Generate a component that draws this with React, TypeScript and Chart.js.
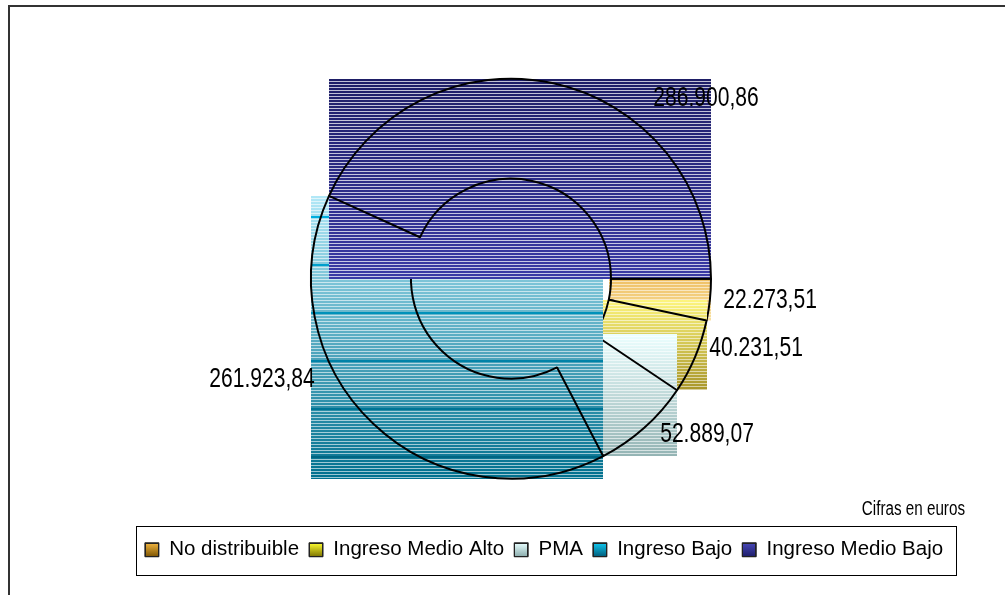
import React, { useEffect, useRef } from 'react';
import { Chart, registerables } from 'chart.js';

Chart.register(...registerables);

// ---- data ----
const categories = ['No distribuible', 'Ingreso Medio Alto', 'PMA', 'Ingreso Bajo', 'Ingreso Medio Bajo'];
const values = [22273.51, 40231.51, 52889.07, 261923.84, 286900.86];
const unitNote = 'Cifras en euros';

// ---- styles ----
const FONT = '"Liberation Sans", Arial, sans-serif';
const fillTop = ['#efc064', '#fdf57e', '#ecffff', '#b2e8f7', '#1e1e66'];
const fillBottom = ['#f8e2a4', '#a8962a', '#94b4b4', '#00708e', '#3a3aa6'];
const stripeColor = [
  'rgba(255,255,255,0.55)',
  'rgba(255,255,255,0.55)',
  'rgba(255,255,255,0.6)',
  'rgba(255,255,255,0.6)',
  'rgba(255,255,255,0.72)',
];
const bandTop = [null, null, null, '#00b4e6', null];
const bandBottom = [null, null, null, '#005f7a', null];
const legendTop = ['#f2b640', '#ffff30', '#e8ffff', '#10c8f0', '#4848b8'];
const legendBottom = ['#7a5200', '#7a7000', '#88aaaa', '#005a78', '#1c1c68'];
// label placement: polar offset from the doughnut centre (deg clockwise from 3 o'clock, multiple of outer radius)
const labelPolar: [number, number][] = [
  [4.9, 1.3],
  [15.9, 1.274],
  [38.5, 1.2525],
  [157.9, 1.3435],
  [317.3, 1.327],
];

const fmt = (v: number) => {
  const [i, d] = v.toFixed(2).split('.');
  return i.replace(/\B(?=(\d{3})+(?!\d))/g, '.') + ',' + d;
};

function arcBox(el: any) {
  const { x, y, startAngle, endAngle, innerRadius, outerRadius } = el;
  const xs: number[] = [];
  const ys: number[] = [];
  for (const a of [startAngle, endAngle]) {
    for (const r of [innerRadius, outerRadius]) {
      xs.push(x + r * Math.cos(a));
      ys.push(y + r * Math.sin(a));
    }
  }
  const q = Math.PI / 2;
  for (let k = Math.ceil(startAngle / q); k * q <= endAngle; k++) {
    xs.push(x + outerRadius * Math.cos(k * q));
    ys.push(y + outerRadius * Math.sin(k * q));
  }
  return {
    l: Math.round(Math.min(...xs)),
    r: Math.round(Math.max(...xs)),
    t: Math.round(Math.min(...ys)),
    b: Math.round(Math.max(...ys)),
  };
}

function condensedText(ctx: any, text: string, x: number, y: number, size: number, align: string) {
  ctx.save();
  ctx.translate(x, y);
  ctx.scale(0.78, 1);
  ctx.font = `${size}px ${FONT}`;
  ctx.textAlign = align;
  ctx.textBaseline = 'middle';
  ctx.fillText(text, 0, 0);
  ctx.restore();
}

const framePlugin = {
  id: 'frame',
  beforeDraw(chart: any) {
    const ctx = chart.ctx;
    ctx.save();
    ctx.fillStyle = '#fff';
    ctx.fillRect(0, 0, chart.width, chart.height);
    ctx.strokeStyle = '#333';
    ctx.lineWidth = 2;
    ctx.strokeRect(9, 6, chart.width + 20, chart.height + 20);
    ctx.restore();
  },
};

const legendShiftPlugin = {
  id: 'legendShift',
  afterLayout(chart: any) {
    const lg = chart.legend;
    if (lg) {
      lg.left += 33;
      lg.right += 33;
    }
  },
};

// each segment: its bounding box is filled with a striped gradient, then the segment outline drawn;
// later segments overlap earlier ones (as in the reference rendering)
const segmentPlugin = {
  id: 'segmentBoxes',
  beforeDatasetDraw(chart: any, args: any) {
    const ctx = chart.ctx;
    const meta = args.meta;
    meta.data.forEach((el: any, i: number) => {
      const { l, r, t, b } = arcBox(el);
      const w = r - l;
      ctx.save();
      const g = ctx.createLinearGradient(0, t, 0, b);
      g.addColorStop(0, fillTop[i]);
      g.addColorStop(1, fillBottom[i]);
      ctx.fillStyle = g;
      ctx.fillRect(l, t, w, b - t);
      let bg: any = null;
      if (bandTop[i]) {
        bg = ctx.createLinearGradient(0, t, 0, b);
        bg.addColorStop(0, bandTop[i]);
        bg.addColorStop(1, bandBottom[i]);
      }
      ctx.fillStyle = stripeColor[i];
      for (let yy = t + 2; yy < b; yy += 3) {
        if (bg && (yy - t - 20 + 480) % 48 < 3) continue;
        ctx.fillRect(l, yy, w, 1);
      }
      if (bg) {
        ctx.fillStyle = bg;
        for (let yy = t + 20; yy < b; yy += 48) ctx.fillRect(l, yy, w, 2);
      }
      ctx.restore();
      el.draw(ctx, chart.chartArea);
    });
    return false;
  },
};

const labelPlugin = {
  id: 'valueLabels',
  afterDraw(chart: any) {
    const ctx = chart.ctx;
    const meta = chart.getDatasetMeta(0);
    ctx.save();
    ctx.fillStyle = '#000';
    meta.data.forEach((el: any, i: number) => {
      const [deg, k] = labelPolar[i];
      const a = (deg * Math.PI) / 180;
      const R = el.outerRadius;
      condensedText(ctx, fmt(values[i]), el.x + R * k * Math.cos(a), el.y + R * k * Math.sin(a), 27, 'center');
    });
    condensedText(ctx, unitNote, chart.width - 40, 510, 19.5, 'right');
    // legend frame + gradient boxes
    const lg = chart.legend;
    const hb = lg.legendHitBoxes;
    if (hb && hb.length) {
      const first = hb[0];
      const last = hb[hb.length - 1];
      ctx.strokeStyle = '#000';
      ctx.lineWidth = 1;
      const L = Math.round(first.left - 9) + 0.5;
      const Rr = Math.round(last.left + last.width + 13) + 0.5;
      const T = Math.round(first.top - 14) + 0.5;
      const B = Math.round(first.top + first.height + 15) + 0.5;
      ctx.strokeRect(L, T, Rr - L, B - T);
      hb.forEach((h: any, i: number) => {
        const bx = Math.round(h.left);
        const by = Math.round(h.top + (h.height - 14) / 2);
        const g = ctx.createLinearGradient(0, by, 0, by + 14);
        g.addColorStop(0, legendTop[i]);
        g.addColorStop(1, legendBottom[i]);
        ctx.fillStyle = g;
        ctx.fillRect(bx, by, 14, 14);
        ctx.strokeStyle = '#222';
        ctx.strokeRect(bx + 0.5, by + 0.5, 13, 13);
      });
    }
    ctx.restore();
  },
};

export default function App() {
  const ref = useRef<HTMLCanvasElement>(null);
  useEffect(() => {
    const chart = new Chart(ref.current as HTMLCanvasElement, {
      type: 'doughnut',
      data: {
        labels: categories,
        datasets: [
          {
            data: values,
            backgroundColor: 'rgba(0,0,0,0)',
            borderColor: '#000',
            borderWidth: 2,
            hoverBorderColor: '#000',
          } as any,
        ],
      },
      options: {
        animation: false,
        responsive: true,
        maintainAspectRatio: false,
        events: [],
        rotation: 90,
        radius: 200,
        cutout: '50%',
        layout: { padding: { top: 28, bottom: 25, left: 17, right: 0 } },
        plugins: {
          tooltip: { enabled: false },
          legend: {
            position: 'bottom',
            labels: {
              color: '#000',
              font: { size: 20.5, family: FONT },
              boxWidth: 14,
              boxHeight: 14,
              padding: 10,
              generateLabels: () =>
                categories.map((c, i) => ({
                  text: c,
                  fillStyle: legendTop[i],
                  strokeStyle: '#222',
                  lineWidth: 1,
                  hidden: false,
                  index: i,
                  datasetIndex: 0,
                })),
            },
          },
        },
      } as any,
      plugins: [framePlugin, legendShiftPlugin, segmentPlugin, labelPlugin],
    });
    return () => chart.destroy();
  }, []);
  return (
    <div style={{ position: 'fixed', left: 0, top: 0, width: 1005, height: 595 }}>
      <canvas ref={ref} />
    </div>
  );
}
